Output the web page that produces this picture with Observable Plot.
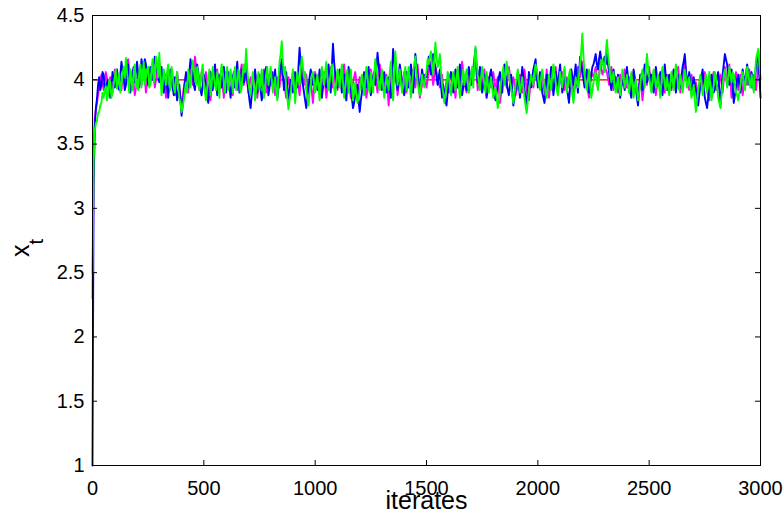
<!DOCTYPE html>
<html>
<head>
<meta charset="utf-8">
<script src="https://cdn.jsdelivr.net/npm/d3@7"></script>
<script src="https://cdn.jsdelivr.net/npm/@observablehq/plot@0.6"></script>
<style>
  html, body { margin: 0; padding: 0; background: #fff; }
  #chart { width: 784px; height: 513px; }
</style>
</head>
<body>
<div id="chart"></div>
<script>
// iterate positions
const coarseIterates = [0, 4].concat(d3.range(10, 3001, 10)); // magenta samples
const fineIterates = d3.range(0, 3001, 5);                     // blue and green samples

const xTicks = [0, 500, 1000, 1500, 2000, 2500, 3000];
const yTicks = [1, 1.5, 2, 2.5, 3, 3.5, 4, 4.5];
const fixedPoint = [4];

const magentaSeries = [2.3, 3.1,
3.70,3.82,3.94,4.04,3.92,4.06,3.96,4.02,3.90,4.08,
3.96,4.04,3.92,4.10,4.02,4.16,3.94,4.06,3.88,4.00,
4.08,3.96,4.12,3.90,4.04,3.98,4.10,3.94,4.06,4.14,
3.96,4.04,3.86,4.08,3.94,4.02,3.88,4.06,3.92,3.80,
3.94,4.04,3.90,4.10,3.96,4.18,4.02,3.92,4.06,3.98,
4.06,3.90,3.84,4.04,3.96,4.08,3.92,4.02,3.86,4.06,
3.96,4.04,3.88,4.08,3.92,4.02,4.12,3.96,4.06,3.90,
4.02,3.92,4.06,3.86,4.00,3.94,4.08,3.90,4.04,3.96,
4.06,3.88,4.02,3.94,4.10,3.98,3.86,4.02,3.92,4.06,
3.94,4.02,3.88,4.10,3.96,4.04,3.90,4.00,3.82,4.06,
3.96,4.02,3.90,4.06,3.86,4.00,4.10,3.94,4.04,3.92,
4.02,3.96,4.12,3.92,4.04,3.86,3.98,4.06,3.90,4.02,
3.94,4.04,3.86,3.98,4.08,3.96,4.02,3.90,4.12,4.00,
3.92,4.04,3.80,4.06,3.96,4.10,3.88,4.02,3.94,4.06,
3.90,4.02,3.96,4.08,3.94,4.12,3.86,3.96,4.04,3.94,
4.06,4.14,3.96,4.10,4.02,3.94,4.04,3.84,4.00,3.90,
3.96,4.04,3.86,4.08,3.94,4.14,3.98,3.90,4.02,3.96,
4.06,4.14,3.92,4.04,3.96,4.08,3.90,4.02,3.94,4.06,
3.92,4.02,3.82,3.96,4.04,3.94,4.10,3.96,4.02,3.88,
3.96,4.04,3.90,4.08,3.92,3.84,4.02,3.94,4.06,3.98,
3.96,4.04,3.90,4.08,3.86,4.02,3.94,4.10,3.92,4.00,
4.06,3.92,4.02,3.94,4.08,3.90,3.96,4.10,4.02,4.14,
4.00,3.96,3.86,4.06,4.02,4.10,3.94,4.14,4.04,4.10,
4.06,3.96,4.10,3.92,4.02,3.90,4.04,3.96,4.08,3.94,
4.02,3.92,4.06,3.96,3.90,4.04,3.84,4.02,3.96,4.10,
3.94,4.06,3.88,4.02,3.96,4.08,3.90,4.04,3.96,3.92,
4.04,3.94,4.10,3.90,4.02,4.14,3.98,3.92,4.04,3.94,
3.98,3.88,4.02,3.94,4.06,3.92,3.84,3.98,4.06,3.92,
3.96,4.04,3.90,4.10,3.98,4.12,3.86,3.96,4.06,3.92,
4.04,3.88,4.02,3.96,4.08,3.94,4.04,3.92,4.12,4.00];

const blueSeries = [1.0,
3.20,3.62,3.78,3.85,3.96,4.02,3.92,3.96,4.06,4.04,3.94,3.90,3.98,4.00,3.92,3.86,3.96,4.06,4.00,3.94,
4.02,4.08,3.98,3.92,4.04,4.14,4.08,4.02,3.92,3.96,4.06,4.12,4.00,3.90,3.98,4.06,4.10,3.98,4.06,4.14,
4.04,3.94,4.06,4.16,4.10,4.04,4.16,4.12,4.02,3.96,4.04,4.10,4.06,4.00,4.12,4.18,4.12,4.08,4.02,3.98,
4.04,4.10,3.98,3.90,3.98,4.04,3.94,3.86,3.96,4.08,4.02,3.94,3.88,4.02,3.94,3.84,3.90,3.96,3.84,3.72,
3.80,3.90,3.98,4.06,4.00,3.94,4.06,4.16,4.10,4.04,3.96,3.92,4.02,4.12,4.06,3.98,3.92,3.88,3.96,4.04,
4.00,3.96,3.88,3.82,3.94,4.06,4.00,3.92,4.02,4.12,4.00,3.88,3.96,4.04,3.98,3.94,4.04,4.10,3.98,3.90,
3.98,4.06,3.96,3.86,3.94,4.02,4.06,3.94,4.04,4.14,4.02,3.90,3.98,4.08,4.02,3.98,4.04,4.10,4.00,3.92,
3.84,3.78,3.88,3.96,4.02,4.08,3.98,3.90,3.98,4.04,3.92,3.84,3.90,3.98,4.06,4.10,3.98,3.88,3.94,4.02,
4.06,3.94,4.00,4.08,3.96,3.86,3.94,4.04,4.10,4.16,4.04,3.92,3.98,4.06,3.94,3.84,3.92,4.00,3.96,3.90,
3.98,4.06,4.00,3.94,4.10,4.25,4.12,4.02,3.96,3.90,3.84,3.78,3.86,3.94,4.02,4.08,4.02,3.96,3.98,4.04,
3.98,3.92,4.00,4.08,3.96,3.86,3.94,4.02,3.98,3.94,4.04,4.12,4.00,3.90,4.10,4.28,4.14,4.04,3.98,3.94,
4.02,4.08,3.98,3.90,3.98,4.04,3.92,3.84,3.96,4.10,4.02,3.94,3.86,3.78,3.82,3.88,3.94,3.96,3.84,3.75,
3.84,3.90,3.98,4.06,4.00,3.94,4.02,4.10,3.98,3.88,3.94,4.02,4.06,3.96,4.08,4.21,4.12,4.04,3.96,3.92,
3.98,4.06,3.98,3.90,3.96,4.02,3.94,3.86,4.04,4.24,4.14,4.06,3.98,3.92,4.02,4.12,4.06,3.98,3.92,3.88,
3.96,4.06,4.00,3.94,4.04,4.12,4.02,3.90,4.06,4.20,4.10,4.04,3.96,3.92,4.00,4.08,4.02,3.96,4.04,4.02,
4.10,4.18,4.10,4.04,4.14,4.20,4.14,4.10,4.02,3.96,4.02,4.08,3.96,3.86,3.96,3.90,3.84,3.80,3.90,4.00,
4.02,4.06,3.98,3.90,3.98,4.08,4.02,3.94,4.04,4.12,4.00,3.88,3.94,4.02,3.96,3.92,4.02,4.10,4.04,3.96,
4.02,4.08,4.16,4.24,4.10,3.98,4.04,4.10,3.98,3.90,3.96,4.04,3.94,3.86,3.92,3.98,4.04,4.08,4.00,3.92,
3.88,3.84,3.90,3.96,4.02,4.06,3.96,3.90,4.02,4.12,4.04,3.98,3.92,3.88,3.96,4.04,3.92,3.80,3.86,3.92,
3.98,4.02,3.94,3.86,3.98,4.10,4.02,3.92,3.86,3.80,3.94,4.06,4.00,3.94,4.02,4.08,4.12,4.16,4.04,3.94,
4.00,4.06,3.98,3.90,3.86,3.82,3.92,4.04,3.98,3.94,4.02,4.10,3.98,3.88,3.96,4.06,4.00,3.96,4.04,4.12,
4.00,3.90,3.96,4.04,4.00,3.94,3.88,3.82,3.94,4.08,4.02,3.96,4.04,4.12,4.00,3.90,4.04,4.18,4.12,4.06,
4.00,3.94,4.02,4.08,3.98,3.90,3.98,4.04,4.10,4.12,4.16,4.20,4.12,4.08,4.16,4.22,4.16,4.12,4.14,4.18,
4.12,4.20,4.12,4.06,3.98,3.92,4.00,4.08,4.02,3.96,3.98,4.04,3.94,3.86,3.94,4.02,3.98,3.92,4.02,4.10,
4.02,3.96,3.90,3.86,3.96,4.08,4.02,3.94,3.86,3.80,3.92,4.04,3.98,3.92,4.04,4.12,4.04,3.98,4.02,4.06,
3.98,4.04,3.96,3.90,4.00,4.10,4.02,3.96,4.00,4.06,3.96,3.88,4.00,4.12,4.02,3.92,3.98,4.04,3.98,3.94,
4.02,4.08,3.98,3.90,3.98,4.04,3.98,3.94,4.02,4.10,4.14,4.20,4.08,3.96,4.00,4.06,3.98,3.90,3.96,4.02,
3.96,3.92,3.86,3.80,3.88,3.96,4.02,4.08,3.96,3.86,3.82,3.78,3.86,3.94,4.00,4.04,3.96,3.90,3.94,3.98,
4.02,4.06,3.92,3.80,3.92,4.04,4.12,4.20,4.16,4.12,4.04,3.96,4.02,4.08,3.94,3.82,3.88,3.94,4.00,4.04,
3.96,3.90,3.98,4.08,4.02,3.94,4.04,4.12,4.04,3.96,4.00,4.06,3.98,3.92,4.02,4.10,4.16,4.22,4.02,3.86];

const greenSeries = [2.5,
3.35,3.60,3.66,3.68,3.74,3.75,3.80,3.82,3.90,3.86,3.92,3.95,3.84,3.88,4.00,3.98,3.86,3.90,3.96,4.02,
4.08,3.93,3.98,4.05,3.90,3.96,4.04,4.10,4.02,4.17,4.06,3.98,3.90,4.08,4.00,3.92,4.06,4.12,3.94,4.00,
3.92,4.06,4.12,3.94,4.04,4.14,3.96,4.02,4.08,4.10,3.94,3.96,4.08,4.16,3.98,4.04,4.18,4.12,4.02,4.21,
4.04,3.88,3.96,4.08,4.02,3.96,4.06,4.12,3.98,3.92,4.10,4.04,3.94,3.90,4.00,4.06,3.94,3.86,3.82,3.75,
3.80,3.84,3.92,3.98,3.90,4.08,4.02,3.94,4.06,4.15,4.08,4.02,3.96,4.10,4.04,3.92,3.98,4.06,4.12,3.96,
3.90,3.84,3.94,4.02,4.08,3.88,3.96,4.10,4.02,3.96,3.92,4.06,3.98,3.86,4.04,4.12,4.06,3.98,3.90,4.04,
4.10,3.92,3.98,4.08,4.00,3.90,4.04,4.10,3.92,3.96,4.08,4.04,3.90,3.94,4.06,4.12,4.06,4.24,4.08,3.98,
3.92,3.88,3.98,4.06,3.94,3.84,3.92,4.00,4.06,3.92,3.98,4.08,3.96,3.86,3.94,4.04,4.10,3.96,4.02,4.10,
4.00,3.90,3.96,4.02,3.92,3.84,4.00,4.14,4.20,4.30,4.14,4.04,4.10,3.94,3.86,3.77,3.84,3.90,3.98,4.08,
3.96,3.82,3.94,4.06,4.00,3.96,4.08,4.18,4.10,4.02,4.06,3.92,3.86,3.80,3.90,3.96,4.04,4.06,3.98,3.90,
3.98,4.04,3.94,3.84,3.96,4.10,4.04,3.96,4.06,4.14,4.02,3.92,3.98,4.06,4.12,4.00,3.94,3.88,3.98,4.08,
4.02,3.94,4.04,4.12,3.98,3.86,3.94,4.02,4.08,3.90,3.96,4.08,3.96,3.84,3.90,3.98,3.88,3.82,3.86,3.92,
3.98,4.04,3.96,3.88,4.00,4.10,4.02,3.94,3.90,4.06,3.98,3.90,4.04,4.16,4.08,4.02,3.96,3.92,4.00,4.08,
3.96,3.86,3.94,4.02,3.98,3.92,4.06,4.14,3.96,3.84,4.06,4.22,4.08,3.96,4.02,4.08,3.98,3.90,3.96,4.04,
4.10,3.92,4.02,4.10,3.96,3.86,3.96,4.06,4.12,4.18,4.06,3.98,3.92,3.88,3.96,4.04,3.98,3.94,4.02,4.06,
4.16,4.12,4.18,4.22,4.10,4.04,4.16,4.29,4.18,4.10,4.14,4.20,4.06,3.96,3.90,3.82,3.88,3.94,4.06,4.02,
3.94,3.88,3.98,4.06,4.00,3.92,4.02,4.10,3.96,3.86,3.94,4.02,4.08,3.96,4.02,4.08,3.98,3.90,3.96,4.04,
4.10,3.94,4.12,4.26,4.14,4.04,3.98,3.92,4.02,4.10,4.04,3.96,3.90,4.06,3.98,3.90,3.96,4.02,3.94,3.86,
3.90,3.94,3.86,3.78,3.84,3.90,3.98,4.04,4.10,3.96,4.04,4.14,4.08,4.06,3.98,3.94,3.88,3.82,3.88,3.96,
4.02,4.08,3.98,3.90,3.96,4.02,3.94,3.86,3.80,3.74,3.84,3.92,3.98,4.04,4.00,3.96,4.06,4.12,4.08,4.02,
3.96,3.92,4.02,4.08,4.00,3.96,3.90,3.86,3.94,4.04,3.98,3.92,4.04,4.12,4.06,3.98,3.92,3.88,3.96,4.06,
4.00,3.94,4.04,4.10,3.98,3.90,3.96,4.04,4.08,3.96,3.88,3.82,3.92,4.02,3.98,3.94,4.04,4.12,4.22,4.36,
4.18,4.04,3.96,3.92,4.00,4.08,3.96,3.86,3.92,3.98,4.04,4.06,3.98,3.92,4.02,4.10,4.14,4.16,4.10,4.06,
4.20,4.31,4.20,4.12,4.04,3.98,4.02,4.06,3.96,3.90,3.96,4.02,3.94,3.88,3.98,4.08,4.02,3.94,3.98,4.04,
3.96,3.90,3.98,4.06,3.96,3.86,3.94,4.00,3.92,3.84,3.90,3.96,4.04,4.08,4.00,3.94,4.08,4.20,4.10,4.02,
3.96,3.90,4.00,4.08,4.02,3.94,3.98,4.04,3.94,3.86,3.98,4.10,4.04,3.96,3.92,4.02,3.96,3.88,3.96,4.06,
4.00,3.92,4.04,4.12,4.06,3.96,3.92,4.04,3.98,3.90,3.98,4.08,4.02,3.94,3.98,4.02,3.94,3.86,3.90,3.96,
3.84,3.75,3.84,3.92,3.98,4.04,3.96,3.88,3.94,3.98,4.04,3.90,3.96,4.06,3.94,3.84,3.90,3.96,4.06,4.02,
3.94,3.86,3.82,3.78,3.88,3.96,4.04,4.08,4.00,3.94,4.02,4.10,4.04,3.98,4.06,4.04,3.96,3.90,3.88,3.84,
3.90,3.96,4.02,4.06,3.98,3.92,4.02,4.10,4.04,3.98,3.94,4.04,3.98,3.90,4.04,4.16,4.20,4.24,4.12,4.02];

const toRows = (its, vals) => its.map((t, i) => ({t, v: vals[i]}));

const font = "'Liberation Sans', Arial, Helvetica, sans-serif";
const fmt = d => String(d);

const W = 784, H = 513;
const mL = 92, mR = 24, mT = 15, mB = 48;
const tickLen = 5;
const insetX = (H - mT - mB) - tickLen; // leaves a 5px rule at one frame edge
const insetY = (W - mL - mR) - tickLen;

const plot = Plot.plot({
  width: W,
  height: H,
  marginLeft: mL,
  marginRight: mR,
  marginTop: mT,
  marginBottom: mB,
  style: {fontFamily: font, fontSize: "20px", background: "#fff", color: "#000"},
  x: {domain: [0, 3000]},
  y: {domain: [1, 4.5]},
  marks: [
    Plot.ruleY(fixedPoint, {stroke: "#d40000", strokeWidth: 1.2}),
    Plot.line(toRows(coarseIterates, magentaSeries), {x: "t", y: "v", stroke: "#ff00ff", strokeWidth: 1.9}),
    Plot.line(toRows(fineIterates, blueSeries), {x: "t", y: "v", stroke: "#0000ff", strokeWidth: 1.9}),
    Plot.line(toRows(fineIterates, greenSeries), {x: "t", y: "v", stroke: "#00ff00", strokeWidth: 1.9}),
    Plot.frame({stroke: "#000", strokeWidth: 1}),
    // inward tick marks on all four sides
    Plot.ruleX(xTicks, {insetTop: insetX, stroke: "#000"}),
    Plot.ruleX(xTicks, {insetBottom: insetX, stroke: "#000"}),
    Plot.ruleY(yTicks, {insetRight: insetY, stroke: "#000"}),
    Plot.ruleY(yTicks, {insetLeft: insetY, stroke: "#000"}),
    Plot.axisX(xTicks, {anchor: "bottom", tickSize: 0, tickPadding: 15, tickFormat: fmt, label: null, fontSize: 20}),
    Plot.axisY(yTicks, {anchor: "left", tickSize: 0, tickPadding: 8, tickFormat: fmt, label: null, fontSize: 20}),
    Plot.text(["iterates"], {frameAnchor: "bottom", lineAnchor: "bottom", dy: 43, fontSize: 25, text: d => d})
  ]
});

document.getElementById("chart").appendChild(plot);

// y-axis label with subscript: x_t
const svg = d3.select(plot);
const ylab = svg.append("text")
  .attr("transform", "translate(29,248) rotate(-90)")
  .attr("font-family", font)
  .attr("font-size", 25)
  .attr("fill", "#000");
ylab.append("tspan").text("x");
ylab.append("tspan").attr("font-size", 20).attr("dy", 14).text("t");
</script>
</body>
</html>
